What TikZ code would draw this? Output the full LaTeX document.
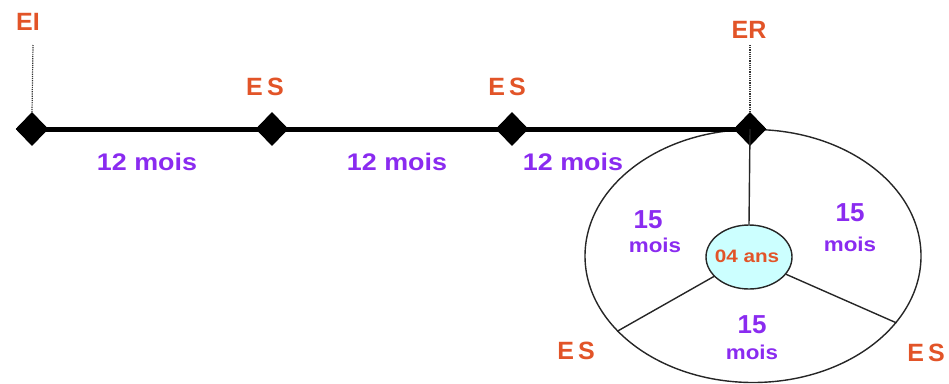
\documentclass[tikz,border=0pt]{standalone}
\usepackage{fontspec}
\setmainfont{Liberation Sans}
\usetikzlibrary{shapes.geometric}
\definecolor{lblred}{RGB}{226,84,40}
\definecolor{lblpurple}{RGB}{138,43,240}
\definecolor{lightcyan}{RGB}{204,255,255}
\begin{document}
\begin{tikzpicture}[x=1pt,y=-1pt,
  mark box/.style={diamond,fill=black,draw=black,inner sep=0pt,minimum width=32pt,minimum height=33pt},
  ev/.style={text=lblred,font=\fontsize{25}{25}\bfseries\selectfont,inner sep=0pt},
  dur/.style={text=lblpurple,font=\fontsize{24}{24}\bfseries\selectfont,inner sep=0pt,xscale=1.12},
  big/.style={text=lblpurple,font=\fontsize{26}{26}\bfseries\selectfont,inner sep=0pt},
  small/.style={text=lblpurple,font=\fontsize{20}{20}\bfseries\selectfont,inner sep=0pt,xscale=1.12},
  tick/.style={densely dotted,line width=1.2pt,black!80}]
\useasboundingbox (0,0) rectangle (949,383);
% circle
\node[ellipse,draw=black!85,line width=1.4pt,minimum width=336pt,minimum height=253pt] (wheel) at (753,256) {};
\node[ellipse,draw=black!85,line width=1.4pt,fill=lightcyan,minimum width=86pt,minimum height=64pt,inner sep=0pt] (core) at (749,257) {};
% main line
\node[mark box] (d1) at (32,129) {};
\node[mark box] (d2) at (272,129) {};
\node[mark box] (d3) at (512,129) {};
\node[mark box] (d4) at (750,129) {};
\draw[line width=5pt] (d1.center) -- (d4.center);
\node[mark box] at (d1) {};
\node[mark box] at (d2) {};
\node[mark box] at (d3) {};
\node[mark box] at (d4) {};
% spokes
\draw[line width=1.4pt,black!85] (d4.center) -- (core.north);
\draw[line width=1.4pt,black!85] (core.209) -- (wheel.209);
\draw[line width=1.4pt,black!85] (core.335) -- (wheel.335);
% labels
\node[ev] (ei) at (28,22) {EI};
\coordinate (eitop) at (33,45);
\draw[tick] (eitop) -- (d1.north);
\node[ev] (es1) at (265,87) {E\,S};
\node[ev] (es2) at (507,87) {E\,S};
\node[ev] (er) at (749,30) {ER};
\coordinate (ertop) at (750,45);
\draw[tick] (ertop) -- (d4.north);
\node[ev] (es3) at (576,351) {E\,S};
\node[ev] (es4) at (926,353) {E\,S};
\node[dur] (m1) at (147,162) {12 mois};
\node[dur] (m2) at (397,162) {12 mois};
\node[dur] (m3) at (573,162) {12 mois};
\node[big] (n1) at (648,220) {15};
\node[small] (s1) at (655,245) {mois};
\node[big] (n2) at (850,213) {15};
\node[small] (s2) at (850,244) {mois};
\node[big] (n3) at (752,325) {15};
\node[small] (s3) at (752,352) {mois};
\node[text=lblred,font=\fontsize{18}{18}\bfseries\selectfont,inner sep=0pt,xscale=1.15] (yrs) at (747,256) {04 ans};
\end{tikzpicture}
\end{document}
